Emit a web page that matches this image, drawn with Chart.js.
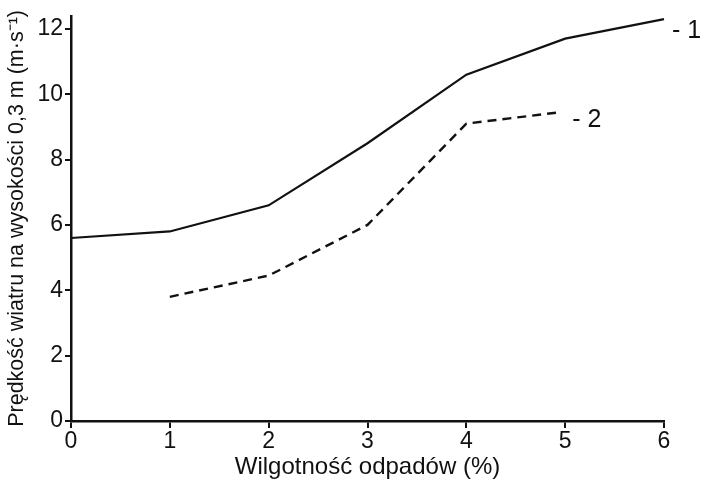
<!DOCTYPE html>
<html>
<head>
<meta charset="utf-8">
<script src="https://cdn.jsdelivr.net/npm/chart.js@4"></script>
<style>
  html, body { margin: 0; padding: 0; background: #fff; }
  #wrap { width: 701px; height: 490px; }
</style>
</head>
<body>
<div id="wrap"><canvas id="windChart"></canvas></div>
<script>
// dane
var wilgotnosc1 = [0, 1, 2, 3, 4, 5, 6];
var predkosc1 = [5.6, 5.8, 6.6, 8.5, 10.6, 11.7, 12.3];
var wilgotnosc2 = [1, 2, 3, 4, 4.95];
var predkosc2 = [3.8, 4.45, 6.0, 9.1, 9.45];
var yTicks = [0, 2, 4, 6, 8, 10, 12];
var xTicks = [0, 1, 2, 3, 4, 5, 6];
var seriesLabels = ['- 1', '- 2'];

var ink = '#111';
var fam = '"Liberation Sans", Arial, sans-serif';

// etykiety "- 1" i "- 2" na końcach linii
var endLabels = {
    id: 'endLabels',
    afterDatasetsDraw: function(chart) {
        var c = chart.ctx;
        var xs = chart.scales.x, ys = chart.scales.y;
        c.save();
        c.fillStyle = ink;
        c.font = '25px ' + fam;
        c.textBaseline = 'middle';
        chart.data.datasets.forEach(function(ds, i) {
            var last = ds.data[ds.data.length - 1];
            var px = xs.getPixelForValue(last.x) + (i === 0 ? 8 : 12);
            var py = ys.getPixelForValue(last.y) + (i === 0 ? 12 : 8);
            c.fillText(seriesLabels[i], px, py);
        });
        c.restore();
    }
};

function toPoints(xs, ys) {
    return xs.map(function(v, i) { return { x: v, y: ys[i] }; });
}

new Chart(document.getElementById('windChart'), {
    type: 'line',
    data: {
        datasets: [{
            data: toPoints(wilgotnosc1, predkosc1),
            borderColor: ink,
            borderWidth: 2.2,
            pointRadius: 0,
            tension: 0,
            clip: false
        }, {
            data: toPoints(wilgotnosc2, predkosc2),
            borderColor: ink,
            borderWidth: 2.4,
            borderDash: [9, 6],
            pointRadius: 0,
            tension: 0,
            clip: false
        }]
    },
    options: {
        responsive: true,
        maintainAspectRatio: false,
        animation: false,
        layout: { padding: { top: 12, right: 37, left: 0, bottom: 4 } },
        plugins: {
            legend: { display: false },
            tooltip: { enabled: false }
        },
        scales: {
            x: {
                type: 'linear',
                min: 0,
                max: 6,
                afterBuildTicks: function(s) { s.ticks = xTicks.map(function(v) { return { value: v }; }); },
                afterFit: function(s) { s.height = 65; },
                grid: { drawOnChartArea: false, color: ink, tickLength: 7, lineWidth: 2 },
                border: { color: ink, width: 2.5 },
                ticks: { color: ink, padding: 0, font: { size: 23, family: fam } },
                title: {
                    display: true,
                    text: 'Wilgotność odpadów (%)',
                    color: ink,
                    padding: { top: 0 },
                    font: { size: 24, family: fam }
                }
            },
            y: {
                type: 'linear',
                min: 0,
                max: 12.4,
                afterBuildTicks: function(s) { s.ticks = yTicks.map(function(v) { return { value: v }; }); },
                afterFit: function(s) { s.width = 71; },
                grid: { drawOnChartArea: false, color: ink, tickLength: 6, lineWidth: 2 },
                border: { color: ink, width: 2.5 },
                ticks: { color: ink, padding: 2, font: { size: 23, family: fam } },
                title: {
                    display: true,
                    text: 'Prędkość wiatru na wysokości 0,3 m (m·s⁻¹)',
                    color: ink,
                    padding: { bottom: 0 },
                    font: { size: 21.5, family: fam }
                }
            }
        }
    },
    plugins: [endLabels]
});
</script>
</body>
</html>
